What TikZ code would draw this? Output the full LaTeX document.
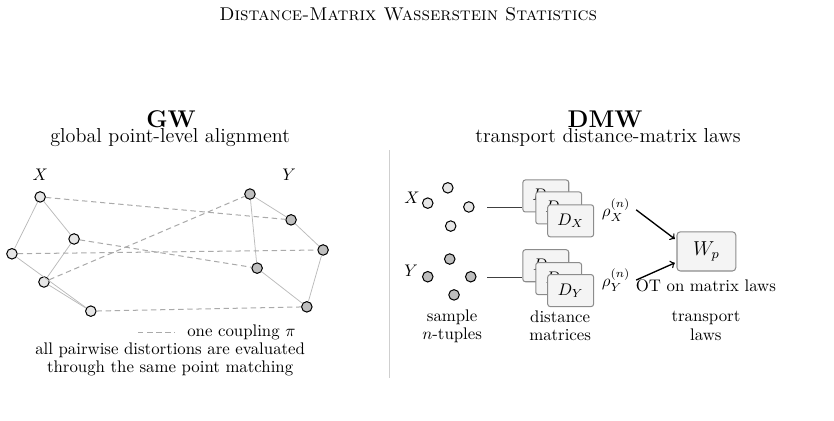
\documentclass[tikz,border=0pt]{standalone}
\usepackage{tikz}

\begin{document}
\begin{tikzpicture}[
  pt/.style={circle, draw=black, line width=0.6pt, inner sep=0pt, minimum size=0.22cm},
  ptX/.style={pt, fill=fillX},
  ptY/.style={pt, fill=fillY},
  edgeGW/.style={draw=edgeGray, line width=0.45pt},
  coup/.style={draw=dashGray, line width=0.6pt, dash pattern=on 3.2pt off 2.2pt},
  matbox/.style={draw=boxGray, fill=boxFill, rounded corners=1.5pt, line width=0.6pt,
    minimum width=0.96cm, minimum height=0.67cm, inner sep=0pt},
  caption/.style={align=center, font=\linespread{0.9}\selectfont},
  arr/.style={->, line width=0.8pt}
]

% Colori
\definecolor{fillX}{HTML}{E6E6E6}
\definecolor{fillY}{HTML}{BEBEBE}
\definecolor{edgeGray}{HTML}{BBBBBB}
\definecolor{dashGray}{HTML}{AAAAAA}
\definecolor{boxGray}{HTML}{8C8C8C}
\definecolor{boxFill}{HTML}{F4F4F4}
\definecolor{divGray}{HTML}{CFCFCF}

\useasboundingbox (0,0) rectangle (17.45,-8.79);

% Titolo
\node[font=\fontsize{11}{13}\selectfont] (title) at (8.54,-0.29) {\textsc{Distance-Matrix Wasserstein Statistics}};

% Separatore
\coordinate (divtop) at (8.14,-3.14);
\coordinate (divbot) at (8.14,-7.91);
\draw[divGray, line width=0.6pt] (divtop) -- (divbot);

% Intestazioni
\node[font=\Large\bfseries] (gwhead) at (3.58,-2.49) {GW};
\node[font=\large] (gwsub) at (3.56,-2.87) {global point-level alignment};
\node[font=\Large\bfseries] (dmwhead) at (12.66,-2.49) {DMW};
\node[font=\large] (dmwsub) at (12.72,-2.87) {transport distance-matrix laws};

% GW - punti X
\node (lblX) at (0.84,-3.66) {$X$};
\node[ptX] (x1) at (0.84,-4.12) {};
\node[ptX] (x2) at (1.55,-5.00) {};
\node[ptX] (x3) at (0.25,-5.31) {};
\node[ptX] (x4) at (0.92,-5.90) {};
\node[ptX] (x5) at (1.90,-6.51) {};

% GW - punti Y
\node (lblY) at (6.05,-3.66) {$Y$};
\node[ptY] (y1) at (5.23,-4.06) {};
\node[ptY] (y2) at (6.09,-4.60) {};
\node[ptY] (y3) at (6.76,-5.23) {};
\node[ptY] (y4) at (5.38,-5.61) {};
\node[ptY] (y5) at (6.42,-6.42) {};

% GW - lati interni
\draw[edgeGW] (x1) -- (x2);
\draw[edgeGW] (x1) -- (x3);
\draw[edgeGW] (x2) -- (x4);
\draw[edgeGW] (x3) -- (x5);
\draw[edgeGW] (x4) -- (x5);
\draw[edgeGW] (y1) -- (y2);
\draw[edgeGW] (y2) -- (y3);
\draw[edgeGW] (y1) -- (y4);
\draw[edgeGW] (y4) -- (y5);
\draw[edgeGW] (y3) -- (y5);

% GW - accoppiamento
\draw[coup] (x1) -- (y2);
\draw[coup] (x2) -- (y4);
\draw[coup] (x3) -- (y3);
\draw[coup] (x4) -- (y1);
\draw[coup] (x5) -- (y5);

% GW - legenda
\coordinate (legA) at (2.89,-6.95);
\coordinate (legB) at (3.66,-6.95);
\draw[coup] (legA) -- (legB);
\node (legtxt) at (5.05,-6.95) {one coupling $\pi$};
\node (gwcap1) at (3.56,-7.32) {all pairwise distortions are evaluated};
\node (gwcap2) at (3.56,-7.70) {through the same point matching};

% DMW - n-uple campionate
\node (slblX) at (8.62,-4.14) {$X$};
\node[ptX] (sx1) at (8.95,-4.25) {};
\node[ptX] (sx2) at (9.37,-3.93) {};
\node[ptX] (sx3) at (9.81,-4.33) {};
\node[ptX] (sx4) at (9.43,-4.73) {};
\node (slblY) at (8.60,-5.67) {$Y$};
\node[ptY] (sy1) at (8.95,-5.79) {};
\node[ptY] (sy2) at (9.41,-5.42) {};
\node[ptY] (sy3) at (9.85,-5.79) {};
\node[ptY] (sy4) at (9.50,-6.17) {};

% DMW - matrici delle distanze
\node[matbox] (dxa) at (11.42,-4.10) {$D_X$};
\node[matbox] (dxb) at (11.69,-4.35) {$D_X$};
\node[matbox] (dxc) at (11.94,-4.62) {$D_X$};
\node[matbox] (dya) at (11.42,-5.56) {$D_Y$};
\node[matbox] (dyb) at (11.69,-5.83) {$D_Y$};
\node[matbox] (dyc) at (11.94,-6.08) {$D_Y$};

\coordinate (xout) at (10.19,-4.35);
\coordinate (yout) at (10.19,-5.80);
\draw[black!75, line width=0.7pt] (xout) -- (xout -| dxa.west);
\draw[black!75, line width=0.7pt] (yout) -- (yout -| dya.west);

% DMW - leggi e trasporto
\node (rhox) at (12.89,-4.39) {$\rho_X^{(n)}$};
\node (rhoy) at (12.89,-5.86) {$\rho_Y^{(n)}$};
\node[matbox, font=\large, minimum width=1.23cm, minimum height=0.82cm, rounded corners=2pt] (wp) at (14.78,-5.26) {$W_p$};
\draw[arr] (rhox.east) -- ([xshift=-1pt, yshift=0.26cm]wp.west);
\draw[arr] (rhoy.east) -- ([xshift=-1pt, yshift=-0.24cm]wp.west);
\node (otlbl) at (14.77,-5.98) {OT on matrix laws};

% Didascalie
\node[caption] (capS) at (9.46,-6.82) {sample\\$n$-tuples};
\node[caption] (capD) at (11.72,-6.82) {distance\\matrices};
\node[caption] (capT) at (14.77,-6.82) {transport\\laws};
\end{tikzpicture}
\end{document}
